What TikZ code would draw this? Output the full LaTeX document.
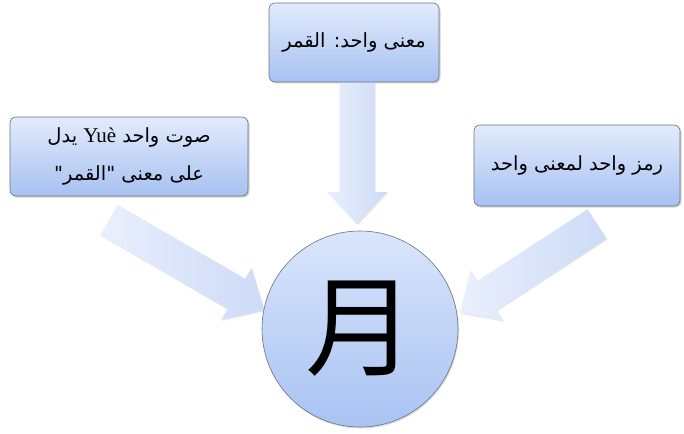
\documentclass[tikz,border=0pt]{standalone}
\usepackage{fontspec}
\setmainfont{Liberation Serif}
\newfontfamily\arabicfont[Script=Arabic]{DejaVu Sans}
\newfontfamily\cjk{Noto Sans CJK SC}
\TeXXeTstate=1
\usetikzlibrary{calc,shadows}
\definecolor{boxtop}{HTML}{E2EBFC}
\definecolor{boxbot}{HTML}{A7C1F1}
\definecolor{circtop}{HTML}{D9E5FB}
\definecolor{circbot}{HTML}{A9C3F3}
\definecolor{arrtop}{HTML}{E9EFFC}
\definecolor{arrbot}{HTML}{CDDBF7}
\definecolor{edge}{HTML}{6B7283}
\tikzset{
  infobox/.style={draw=edge, line width=0.6pt, rounded corners=6pt,
    top color=boxtop, bottom color=boxbot,
    drop shadow={shadow xshift=1.5pt, shadow yshift=-1.5pt, opacity=0.35},
    font=\arabicfont\fontsize{19.5}{38}\selectfont, align=center, inner sep=0pt},
  hub/.style={circle, draw=edge, line width=0.6pt,
    top color=circtop, bottom color=circbot,
    drop shadow={shadow xshift=1pt, shadow yshift=-1.5pt, opacity=0.3},
    minimum size=196pt, inner sep=0pt},
  blockarr/.style={draw=none,
    left color=arrtop, right color=arrbot,
    drop shadow={shadow xshift=1pt, shadow yshift=-1pt, opacity=0.2}},
}
% block arrow from coordinate #1 to coordinate #2
\newcommand{\blockarrow}[2]{%
  \path[blockarr]
    ($(#1)!17.5pt!90:(#2)$) --
    ($($(#2)!32pt!(#1)$)!17.5pt!-90:(#1)$) --
    ($($(#2)!32pt!(#1)$)!30pt!-90:(#1)$) --
    (#2) --
    ($($(#2)!32pt!(#1)$)!30pt!90:(#1)$) --
    ($($(#2)!32pt!(#1)$)!17.5pt!90:(#1)$) --
    ($(#1)!17.5pt!-90:(#2)$) -- cycle;
}
\begin{document}
\begin{tikzpicture}[x=1pt,y=-1pt]
\useasboundingbox (0,0) rectangle (684,433);
% boxes
\node[infobox, minimum width=170pt, minimum height=79pt] (top) at (354,42.5)
  {\beginR معنى واحد: القمر\endR};
\node[infobox, minimum width=238pt, minimum height=79pt] (left) at (129,156.5)
  {\beginR صوت واحد \beginL{\rmfamily\fontsize{21}{22}\selectfont Yuè}\endL{} يدل\endR\\
   \beginR على معنى "القمر"\endR};
\node[infobox, minimum width=206pt, minimum height=81pt] (right) at (577,165.5)
  {\beginR رمز واحد لمعنى واحد\endR};
% arrow anchors
\coordinate (ta) at (357,83);
\coordinate (tb) at (357,224);
\coordinate (la) at (109,220);
\coordinate (lb) at (264,310);
\coordinate (ra) at (597,224);
\coordinate (rb) at (460,313);
\blockarrow{ta}{tb}
\blockarrow{la}{lb}
\blockarrow{ra}{rb}
% hub
\node[hub] (moon) at (360,329) {\cjk\fontsize{110}{110}\selectfont 月};
\end{tikzpicture}
\end{document}
